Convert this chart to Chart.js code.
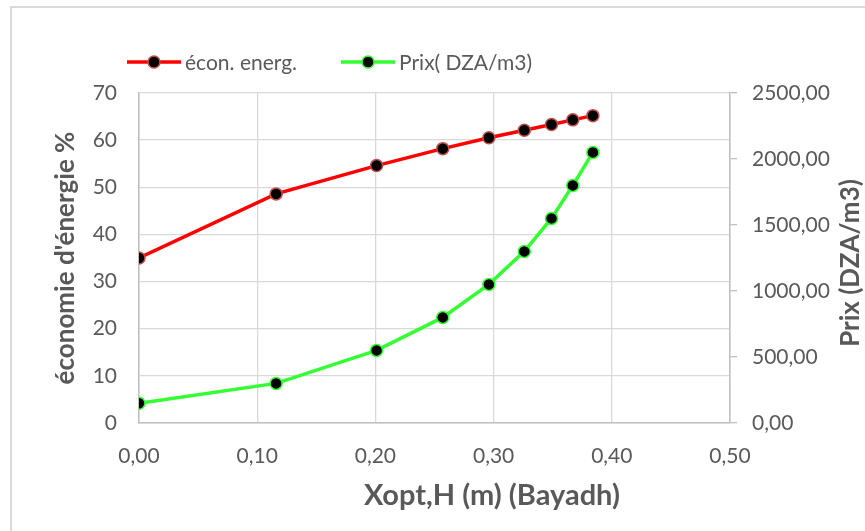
<!DOCTYPE html>
<html>
<head>
<meta charset="utf-8">
<script src="https://cdn.jsdelivr.net/npm/chart.js@4"></script>
<style>
  html, body { margin: 0; padding: 0; background: #fff; }
  #wrap { position: relative; width: 865px; height: 531px; }
</style>
</head>
<body>
<div id="wrap"><canvas id="econChart" width="865" height="531"></canvas></div>
<script>
var xopt = [0, 0.116, 0.201, 0.257, 0.296, 0.326, 0.349, 0.367, 0.384]
var econEnerg = [35.0, 48.6, 54.6, 58.2, 60.5, 62.1, 63.3, 64.3, 65.2]
var prix = [150, 300, 550, 800, 1050, 1300, 1550, 1800, 2050]
var xTicks = [0, 0.1, 0.2, 0.3, 0.4, 0.5]

var textColor = "#595959"
var gridColor = "#d9d9d9"
var fontName = "Lato, 'Open Sans', sans-serif"

function comma(v) {
  return Number(v).toFixed(2).replace(".", ",")
}

function pairs(ys) {
  var out = []
  for (var i = 0; i < xopt.length; i++) {
    out.push({ x: xopt[i], y: ys[i] })
  }
  return out
}

// legend, axis titles and the outer frame
var decorations = {
  id: "decorations",
  beforeDraw: function(chart) {
    var ctx = chart.ctx
    ctx.save()
    ctx.strokeStyle = gridColor
    ctx.lineWidth = 2
    ctx.strokeRect(11, 7, 900, 600)
    ctx.restore()
  },
  afterDraw: function(chart) {
    var ctx = chart.ctx
    var area = chart.chartArea
    ctx.save()

    // legend: line + marker sample, then label
    ctx.font = "21px " + fontName
    ctx.textBaseline = "middle"
    var lx = 127
    var ly = 62
    chart.data.datasets.forEach(function(ds) {
      ctx.strokeStyle = ds.borderColor
      ctx.lineWidth = 3.5
      ctx.beginPath()
      ctx.moveTo(lx, ly)
      ctx.lineTo(lx + 54, ly)
      ctx.stroke()
      ctx.beginPath()
      ctx.arc(lx + 27, ly, 6, 0, Math.PI * 2)
      ctx.fillStyle = "#000"
      ctx.fill()
      ctx.lineWidth = 1.5
      ctx.strokeStyle = ds.pointBorderColor
      ctx.stroke()
      ctx.fillStyle = textColor
      ctx.textAlign = "left"
      ctx.fillText(ds.label, lx + 58, ly + 1)
      lx += 58 + ctx.measureText(ds.label).width + 44
    })

    // axis titles
    ctx.fillStyle = textColor
    ctx.font = "bold 29px " + fontName
    ctx.textAlign = "center"
    ctx.fillText("Xopt,H (m) (Bayadh)", 492, 496)

    ctx.font = "bold 26px " + fontName
    var midY = (area.top + area.bottom) / 2
    ctx.translate(66, midY)
    ctx.rotate(-Math.PI / 2)
    ctx.fillText("économie d'énergie %", 0, 0)
    ctx.rotate(Math.PI / 2)
    ctx.translate(-66, -midY)

    ctx.translate(851, 263)
    ctx.rotate(-Math.PI / 2)
    ctx.fillText("Prix (DZA/m3)", 0, 0)
    ctx.restore()
  }
}

new Chart("econChart", {
  type: "line",
  data: {
    datasets: [
      {
        label: "écon. energ.",
        data: pairs(econEnerg),
        yAxisID: "y",
        borderColor: "#ff0000",
        borderWidth: 3.5,
        pointBackgroundColor: "#000",
        pointBorderColor: "#c0504d",
        pointBorderWidth: 1.5,
        pointRadius: 6,
        tension: 0,
      },
      {
        label: "Prix( DZA/m3)",
        data: pairs(prix),
        yAxisID: "y1",
        borderColor: "#33ff33",
        borderWidth: 3.5,
        pointBackgroundColor: "#000",
        pointBorderColor: "#33ff33",
        pointBorderWidth: 1.5,
        pointRadius: 6,
        tension: 0,
      },
    ],
  },
  options: {
    responsive: false,
    animation: false,
    events: [],
    layout: {
      padding: { top: 93, left: 0, right: 0, bottom: 0 },
    },
    plugins: {
      legend: { display: false },
      tooltip: { enabled: false },
    },
    scales: {
      x: {
        type: "linear",
        min: 0,
        max: 0.5,
        afterFit: function(scale) { scale.height = 108 },
        afterBuildTicks: function(scale) {
          scale.ticks = xTicks.map(function(v) { return { value: v } })
        },
        ticks: {
          color: textColor,
          font: { family: fontName, size: 21 },
          padding: 21,
          callback: function(v) { return comma(v) },
        },
        grid: {
          color: gridColor,
          lineWidth: 1.3,
          drawTicks: false,
        },
        border: { color: "#bfbfbf", width: 1.5 },
      },
      y: {
        position: "left",
        min: 0,
        max: 70,
        afterFit: function(scale) { scale.width = 139 },
        ticks: {
          stepSize: 10,
          color: textColor,
          font: { family: fontName, size: 21 },
          padding: 22,
        },
        grid: {
          color: gridColor,
          lineWidth: 1.3,
          drawTicks: false,
        },
        border: { color: "#bfbfbf", width: 1.5 },
      },
      y1: {
        position: "right",
        min: 0,
        max: 2500,
        afterFit: function(scale) { scale.width = 135 },
        ticks: {
          stepSize: 500,
          color: textColor,
          font: { family: fontName, size: 21 },
          padding: 15,
          callback: function(v) { return comma(v) },
        },
        grid: {
          drawOnChartArea: false,
          drawTicks: true,
          tickLength: 7,
          color: "#bfbfbf",
          lineWidth: 1.3,
        },
        border: { color: "#bfbfbf", width: 1.5 },
      },
    },
  },
  plugins: [decorations],
});
</script>
</body>
</html>
